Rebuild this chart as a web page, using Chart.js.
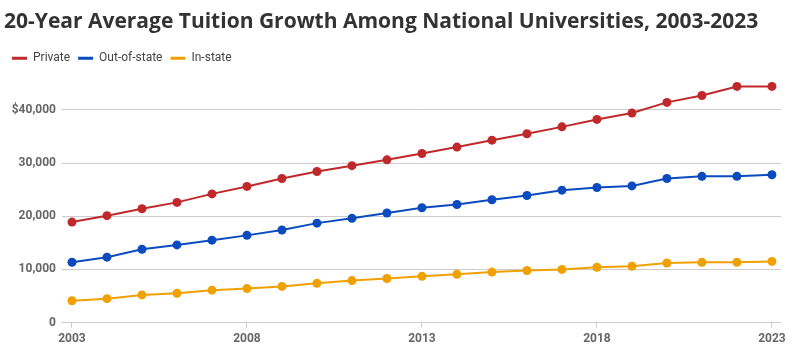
<!DOCTYPE html>
<html>
<head>
<meta charset="utf-8">
<script src="https://cdn.jsdelivr.net/npm/chart.js@4.4.1/dist/chart.umd.min.js"></script>
<style>
  html, body { margin: 0; padding: 0; background: #fff; }
  #wrap { width: 795px; height: 355px; position: relative; }
</style>
</head>
<body>
<div id="wrap"><canvas id="c" width="795" height="355"></canvas></div>
<script>
const years = [2003,2004,2005,2006,2007,2008,2009,2010,2011,2012,2013,2014,2015,2016,2017,2018,2019,2020,2021,2022,2023];
const privateTuition = [18900,20100,21400,22600,24200,25600,27100,28400,29500,30600,31800,33000,34300,35500,36800,38200,39400,41400,42700,44400,44400];
const outOfState = [11350,12300,13800,14600,15500,16400,17400,18700,19600,20600,21600,22200,23100,23900,24900,25400,25700,27100,27500,27500,27800];
const inState = [4100,4500,5200,5500,6100,6400,6800,7400,7900,8300,8700,9100,9500,9800,10000,10400,10600,11200,11350,11350,11500];
const xTicks = [2003,2008,2013,2018,2023];
const yTicks = [0,10000,20000,30000,40000];
const seriesNames = ['Private','Out-of-state','In-state'];
const seriesColors = ['#c0282a','#0b4bbf','#f0a000'];
const titleText = '20-Year Average Tuition Growth Among National Universities, 2003-2023';

const seriesData = [privateTuition, outOfState, inState];
const datasets = seriesData.map((vals, i) => ({
  label: seriesNames[i],
  data: years.map((y, j) => ({x: y, y: vals[j]})),
  borderColor: seriesColors[i],
  backgroundColor: seriesColors[i],
  borderWidth: 2,
  pointRadius: 4.5,
  pointHoverRadius: 4.5,
  pointBorderWidth: 0,
  tension: 0
}));

new Chart(document.getElementById('c'), {
  type: 'line',
  data: { datasets },
  options: {
    responsive: false,
    animation: false,
    layout: { padding: { left: 4, right: 14, top: 5, bottom: 5 } },
    plugins: {
      tooltip: { enabled: false },
      title: {
        display: true,
        text: titleText,
        align: 'start',
        color: '#333333',
        font: { family: 'Open Sans', size: 21, weight: 'bold' },
        padding: { top: 4, bottom: 10 }
      },
      legend: {
        display: true,
        align: 'start',
        labels: {
          boxWidth: 15,
          boxHeight: 3,
          padding: 8,
          color: '#444444',
          font: { family: 'Roboto', size: 12 },
          generateLabels: (chart) => chart.data.datasets.map((d, i) => ({
            text: d.label,
            fillStyle: d.borderColor,
            strokeStyle: d.borderColor,
            lineWidth: 0,
            datasetIndex: i,
            fontColor: '#444444'
          }))
        }
      }
    },
    scales: {
      x: {
        type: 'linear',
        min: 2002.715,
        max: 2023.26,
        afterBuildTicks: (s) => { s.ticks = xTicks.map(v => ({value: v})); },
        ticks: {
          color: '#666666',
          font: { family: 'Roboto', size: 12, weight: 'bold' },
          maxRotation: 0,
          padding: 4,
          callback: (v) => String(v)
        },
        grid: { drawOnChartArea: false, drawTicks: true, tickLength: 5, color: '#cccccc' },
        border: { display: false }
      },
      y: {
        min: 0,
        max: 46700,
        afterBuildTicks: (s) => { s.ticks = yTicks.map(v => ({value: v})); },
        afterFit: (s) => { s.width = 58; },
        ticks: {
          color: '#666666',
          font: { family: 'Roboto', size: 12, weight: 'bold' },
          padding: 6,
          callback: (v) => v === 40000 ? '$40,000' : v.toLocaleString('en-US')
        },
        grid: { color: '#cccccc', lineWidth: 1, drawTicks: false },
        border: { display: false }
      }
    }
  }
});
</script>
</body>
</html>
